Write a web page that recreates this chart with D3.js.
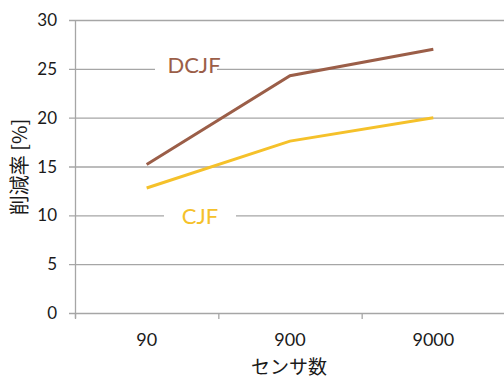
<!DOCTYPE html>
<html><head><meta charset="utf-8">
<script src="https://cdn.jsdelivr.net/npm/d3@7"></script>
<style>body{margin:0;background:#fff}svg{display:block}</style>
</head><body>
<script>
const categories = ["90", "900", "9000"];
const dcjf = [15.2, 24.3, 27.0];
const cjf = [12.8, 17.6, 20.0];
const yTicks = [0, 5, 10, 15, 20, 25, 30];

const W = 504, H = 380;
const m = {left: 75, right: 0, top: 20, bottom: 67};
const svg = d3.select("body").append("svg").attr("width", W).attr("height", H);
const x = d3.scaleBand().domain(categories).range([m.left, W + 1]).padding(0);
const y = d3.scaleLinear().domain([0, 30]).range([H - m.bottom, m.top]);

const grid = "#a6a6a6";
// gridlines
svg.append("g").selectAll("line").data(yTicks).join("line")
  .attr("x1", m.left - 6).attr("x2", W).attr("y1", d => y(d) + 0.5).attr("y2", d => y(d) + 0.5)
  .attr("stroke", grid).attr("stroke-width", 1.3);
// y axis line
svg.append("line").attr("x1", m.left + 0.5).attr("x2", m.left + 0.5).attr("y1", y(30)).attr("y2", y(0) + 5)
  .attr("stroke", grid).attr("stroke-width", 1.3);
// x ticks
const xt = categories.map(c => x(c)).concat([x(categories[2]) + x.bandwidth()]);
svg.append("g").selectAll("line").data(xt).join("line")
  .attr("x1", d => d + 0.5).attr("x2", d => d + 0.5).attr("y1", y(0)).attr("y2", y(0) + 6)
  .attr("stroke", grid).attr("stroke-width", 1.3);

// y tick labels
svg.append("g").selectAll("text").data(yTicks).join("text")
  .attr("x", m.left - 18).attr("y", d => y(d)).attr("dy", "0.36em")
  .attr("text-anchor", "end").attr("font-family", "Lato, sans-serif").attr("font-size", 17)
  .attr("fill", "#1a1a1a").text(d => d);
// x tick labels
svg.append("g").selectAll("text").data(categories).join("text")
  .attr("x", d => x(d) + x.bandwidth() / 2).attr("y", y(0) + 33)
  .attr("text-anchor", "middle").attr("font-family", "Lato, sans-serif").attr("font-size", 18)
  .attr("fill", "#1a1a1a").text(d => d);

// axis titles
svg.append("text").attr("x", 289).attr("y", 374).attr("text-anchor", "middle")
  .attr("font-family", "'Noto Sans CJK JP', sans-serif").attr("font-size", 19).attr("fill", "#1a1a1a").text("センサ数");
svg.append("text").attr("transform", "translate(27,167) rotate(-90)").attr("text-anchor", "middle")
  .attr("font-family", "'Noto Sans CJK JP', sans-serif").attr("font-size", 20).attr("fill", "#1a1a1a").text("削減率 [%]");

// lines
const line = d3.line().x((d, i) => x(categories[i]) + x.bandwidth() / 2).y(d => y(d));
svg.append("path").datum(dcjf).attr("d", line).attr("fill", "none").attr("stroke", "#9b5e48").attr("stroke-width", 3);
svg.append("path").datum(cjf).attr("d", line).attr("fill", "none").attr("stroke", "#f5c12a").attr("stroke-width", 3);

// labels with white boxes
function label(txt, cx, cy, bx, bw, h, color) {
  svg.append("rect").attr("x", bx).attr("y", cy - h / 2).attr("width", bw).attr("height", h).attr("fill", "#fff");
  svg.append("text").attr("x", cx).attr("y", cy).attr("dy", "0.36em").attr("text-anchor", "middle")
    .attr("font-family", "Lato, sans-serif").attr("font-size", 22).attr("fill", color).text(txt);
}
label("DCJF", 194, 65, 155, 62, 24, "#9b5e48");
label("CJF", 200, 216, 164, 72, 26, "#f5c12a");
</script>
</body></html>
